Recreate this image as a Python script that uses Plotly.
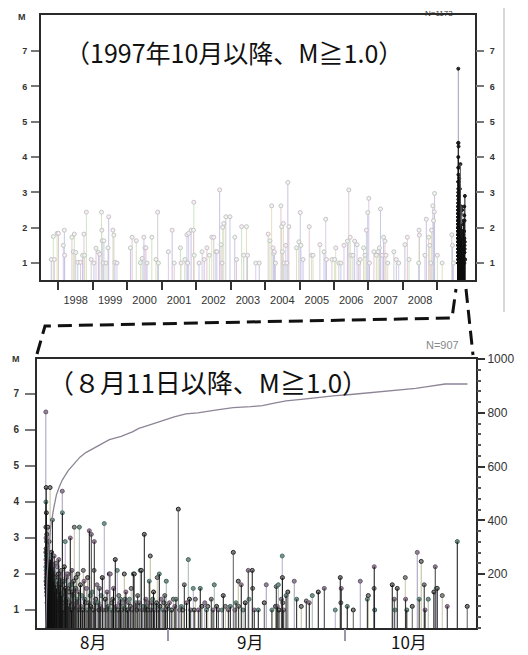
import datetime as dt
import plotly.graph_objects as go

# ---------------- data ----------------
# events from 1997-10 to 2009-08-10 (decimal year, magnitude)
pre_year = [1997.79, 1997.88, 1997.85, 1997.96, 1998.00, 1998.17, 1998.14, 1998.18, 1998.39, 1998.46,
            1998.43, 1998.50, 1998.56, 1998.64, 1998.70, 1998.74, 1998.81, 1998.76, 1998.95, 1999.03,
            1999.09, 1999.16, 1999.20, 1999.25, 1999.26, 1999.27, 1999.32, 1999.30, 1999.46, 1999.44,
            1999.38, 1999.58, 1999.61, 1999.64, 1999.70, 2000.09, 2000.14, 2000.26, 2000.38, 2000.43,
            2000.48, 2000.51, 2000.57, 2000.54, 2000.71, 2000.83, 2000.88, 2000.90, 2001.19, 2001.30,
            2001.36, 2001.54, 2001.56, 2001.67, 2001.73, 2001.78, 2001.85, 2001.92, 2001.93, 2001.94,
            2001.75, 2002.08, 2002.17, 2002.23, 2002.31, 2002.38, 2002.45, 2002.51, 2002.57, 2002.60,
            2002.68, 2002.72, 2002.77, 2002.80, 2002.86, 2002.98, 2002.75, 2003.12, 2003.17, 2003.32,
            2003.46, 2003.38, 2003.49, 2003.73, 2003.83,
            2004.09, 2004.14, 2004.19, 2004.23, 2004.25, 2004.30, 2004.27, 2004.46, 2004.48, 2004.53,
            2004.50, 2004.55, 2004.60, 2004.66, 2004.69, 2004.63, 2004.91, 2004.98, 2005.02, 2005.04,
            2005.10, 2005.28, 2005.35, 2005.39, 2005.59, 2005.71, 2005.76, 2005.78, 2005.94, 2006.02,
            2006.05, 2006.14, 2006.20, 2006.29, 2006.39, 2006.43, 2006.47, 2006.49, 2006.55, 2006.60,
            2006.67, 2006.72, 2006.76, 2006.86, 2006.90, 2006.94, 2006.98, 2007.01, 2007.03, 2007.16,
            2007.23, 2007.28, 2007.32, 2007.35, 2007.40, 2007.44, 2007.48, 2007.51, 2007.56, 2007.74,
            2007.81, 2007.88, 2008.06, 2008.13, 2008.18, 2008.47, 2008.48, 2008.46, 2008.64, 2008.68,
            2008.75, 2008.78, 2008.83, 2008.87, 2008.89, 2008.91, 2008.92, 2008.81, 2009.00, 2009.14,
            2009.42, 2009.44, 2009.47]
pre_mag = [1.1, 1.1, 1.75, 1.84, 1.84, 1.93, 1.5, 1.22, 1.73, 1.82,
           1.32, 1.3, 1.02, 1.02, 1.22, 1.82, 2.44, 1.22, 1.1, 1.0,
           1.42, 1.3, 1.25, 2.44, 1.93, 1.63, 1.63, 1.0, 2.31, 1.43,
           1.0, 1.93, 1.79, 1.02, 1.0, 1.43, 1.73, 1.63, 1.01, 1.13,
           1.73, 1.43, 1.0, 1.43, 1.73, 1.1, 2.44, 1.0, 1.32, 1.93,
           1.0, 1.43, 1.0, 1.1, 1.8, 1.84, 1.93, 1.93, 2.72, 1.22,
           1.0, 1.0, 1.32, 1.1, 1.43, 1.22, 1.73, 1.73, 1.32, 1.32,
           3.07, 1.52, 2.01, 2.12, 2.31, 2.31, 1.0, 1.73, 1.1, 2.03,
           2.03, 1.22, 1.22, 1.0, 1.0,
           1.82, 1.63, 2.62, 1.43, 1.27, 1.0, 1.32, 2.62, 2.03, 2.12,
           1.32, 1.0, 1.5, 3.28, 2.03, 1.0, 1.43, 1.6, 2.43, 1.5,
           1.1, 2.03, 1.22, 1.22, 1.52, 1.32, 2.24, 1.1, 1.1, 1.1,
           1.43, 1.0, 1.0, 1.5, 1.62, 3.07, 1.73, 1.22, 1.22, 1.62,
           1.52, 1.0, 1.1, 1.43, 1.22, 1.93, 2.43, 2.83, 1.0, 1.32,
           1.22, 1.32, 1.43, 2.53, 1.22, 1.73, 1.62, 1.22, 1.0, 1.32,
           1.1, 1.0, 1.52, 1.73, 1.1, 1.93, 1.79, 1.0, 1.22, 2.24,
           1.73, 1.5, 1.93, 2.62, 2.2, 2.45, 2.97, 1.0, 1.22, 1.0,
           1.8, 1.5, 1.0]

# events since 2009-08-11 (day counted from 2009-08-01 = 1, magnitude)
aft_day = [11.21, 11.22, 11.23, 11.24, 11.25, 11.26, 11.27, 11.28, 11.29, 11.30, 11.31, 11.32, 11.33, 11.34,
           11.35, 11.36, 11.38, 11.39, 11.40, 11.42, 11.43, 11.44, 11.46, 11.48, 11.50, 11.52, 11.53, 11.56,
           11.58, 11.60, 11.61, 11.64, 11.66, 11.67, 11.70, 11.72, 11.73, 11.76, 11.78, 11.80, 11.83, 11.86,
           11.88, 11.90, 11.93, 11.96, 11.99,
           12.03, 12.05, 12.09, 12.12, 12.18, 12.22, 12.25, 12.32, 12.36, 12.40, 12.47, 12.51, 12.55, 12.62,
           12.66, 12.70, 12.78, 12.82, 12.86, 12.93, 12.97,
           13.03, 13.08, 13.12, 13.22, 13.27, 13.31, 13.40, 13.45, 13.50, 13.60, 13.65, 13.70, 13.80, 13.85,
           13.90, 13.96,
           14.00, 14.02, 14.06, 14.10, 14.16, 14.22, 14.35, 14.42, 14.50, 14.60, 14.66, 14.72, 14.85, 14.92,
           15.00, 15.08, 15.15, 15.25, 15.36, 15.50, 15.57, 15.65, 15.80, 15.92,
           16.04, 16.12, 16.20, 16.35, 16.42, 16.50, 16.65, 16.72, 16.80, 16.90,
           17.10, 17.20, 17.30, 17.45, 17.57, 17.70, 17.80, 17.90,
           18.10, 18.20, 18.30, 18.45, 18.59, 18.75, 18.85, 18.93,
           19.10, 19.25, 19.40, 19.44, 19.60, 19.70, 19.90,
           20.10, 20.20, 20.30, 20.45, 20.60, 20.80, 20.90,
           21.13, 21.30, 21.45, 21.60, 21.80, 21.98,
           22.15, 22.30, 22.40, 22.55, 22.70, 22.85,
           23.00, 23.17, 23.34, 23.50, 23.60, 23.75, 23.90,
           24.05, 24.20, 24.35, 24.53, 24.65, 24.80, 24.95,
           25.10, 25.25, 25.40, 25.55, 25.70, 25.85,
           26.06, 26.23, 26.35, 26.50, 26.65, 26.80,
           27.05, 27.25, 27.42, 27.55, 27.70, 27.93,
           28.05, 28.20, 28.35, 28.50, 28.65, 28.77, 28.94,
           29.05, 29.20, 29.35, 29.50, 29.65, 29.80,
           30.00, 30.13, 30.30, 30.47, 30.60, 30.80,
           31.10, 31.25, 31.40, 31.55, 31.66, 31.85,
           32.20, 32.40, 32.60, 32.85,
           33.10, 33.30, 33.70, 33.90,
           34.20, 34.50, 34.72,
           35.10, 35.40, 35.60, 35.80,
           36.24, 36.40, 36.60,
           37.10, 37.43, 37.70,
           38.20, 38.50, 38.70,
           39.30, 39.60, 39.81,
           40.20, 40.50,
           41.10, 41.34, 41.70,
           42.20, 42.53,
           43.04, 43.30, 43.50, 43.88, 43.95,
           44.39, 44.70,
           45.07, 45.58, 45.70,
           46.26, 46.32, 46.60,
           47.28, 48.30, 48.64, 49.60,
           50.20, 50.34, 50.50, 50.68, 50.80,
           51.20, 51.35, 51.38, 51.45, 51.60,
           52.00, 52.30, 53.39, 53.80, 54.58, 55.43, 55.94, 56.45, 57.47, 58.49,
           60.35, 61.20, 61.30, 61.37, 62.39, 63.41, 64.60, 65.80, 65.96,
           66.95, 66.97, 67.05,
           70.03, 70.37, 70.50, 70.88,
           72.24, 72.30, 72.50, 73.43,
           74.28, 74.60, 74.95, 75.46, 75.60, 76.14,
           77.10, 77.33, 77.50, 77.67, 78.52, 79.37, 81.07, 82.76,
           11.215, 11.225, 11.245, 11.255, 11.275, 11.285, 11.305, 11.315, 11.335, 11.345,
           11.37, 11.41, 11.45, 11.47, 11.49, 11.51, 11.545, 11.57, 11.59, 11.625,
           11.65, 11.685, 11.71, 11.745, 11.77, 11.79, 11.815, 11.845, 11.87, 11.895,
           11.915, 11.945, 11.975, 12.01, 12.07, 12.15, 12.20, 12.28, 12.35, 12.44,
           12.58, 12.74, 12.90, 13.15, 13.35, 13.55, 13.75, 14.30, 14.55, 14.80,
           15.30, 15.70, 16.30]
aft_mag = [6.5, 4.0, 3.3, 2.4, 3.0, 2.1, 4.4, 2.7, 1.9, 3.7, 2.2, 1.5, 2.9, 1.6,
           2.0, 2.5, 3.1, 1.4, 1.8, 2.3, 1.2, 2.0, 2.8, 1.5, 2.4, 1.1, 1.7, 3.3,
           2.1, 1.3, 1.4, 2.6, 1.2, 1.9, 2.2, 1.0, 1.6, 2.9, 1.3, 1.8, 2.3, 1.3,
           1.7, 2.0, 4.4, 1.7, 2.4,
           1.3, 2.2, 1.1, 1.6, 2.6, 1.2, 1.9, 3.5, 1.0, 1.4, 2.1, 1.2, 1.8, 2.5,
           1.1, 1.5, 2.0, 1.3, 1.7, 2.3, 1.0,
           1.6, 1.2, 2.2, 1.3, 1.0, 1.9, 2.4, 1.1, 1.5, 2.0, 1.2, 1.7, 2.1, 1.0,
           1.4, 1.8,
           4.3, 3.7, 1.2, 1.8, 1.0, 1.5, 2.2, 1.1, 2.9, 1.6, 1.3, 1.9, 1.3, 1.6,
           2.0, 1.1, 1.5, 1.2, 3.0, 1.7, 1.0, 2.1, 1.4, 1.8,
           3.3, 1.1, 1.6, 1.9, 1.2, 1.3, 2.0, 1.0, 1.5, 3.3,
           1.7, 1.1, 1.4, 1.0, 2.1, 1.8, 1.3, 1.2,
           1.6, 1.0, 1.9, 1.2, 3.2, 1.4, 1.1, 3.1,
           1.5, 1.0, 2.1, 2.9, 1.2, 1.3, 1.7,
           1.2, 1.0, 1.6, 1.1, 1.4, 1.9, 1.0,
           3.4, 1.3, 1.0, 1.5, 1.1, 2.0,
           2.0, 1.0, 1.2, 1.3, 1.6, 1.0,
           2.4, 1.1, 2.1, 1.0, 1.4, 1.2, 1.3,
           1.0, 1.2, 1.1, 2.0, 1.3, 1.5, 1.0,
           1.0, 1.2, 1.3, 1.1, 1.6, 1.0,
           2.0, 2.0, 1.1, 1.2, 1.0, 1.4,
           1.2, 2.1, 2.1, 1.0, 1.1, 3.1,
           1.0, 1.3, 1.1, 1.0, 1.2, 1.8, 2.5,
           1.0, 1.2, 1.3, 1.5, 1.0, 1.1,
           1.2, 1.9, 1.0, 2.0, 1.1, 1.3,
           1.0, 1.2, 1.4, 1.0, 1.8, 1.1,
           1.2, 1.0, 1.0, 1.3,
           1.1, 1.3, 3.8, 1.0,
           1.1, 1.0, 1.7,
           1.2, 2.4, 1.3, 1.0,
           1.6, 1.0, 1.3,
           1.0, 1.6, 1.1,
           1.2, 1.0, 1.1,
           1.3, 1.0, 1.7,
           1.1, 1.0,
           1.0, 1.4, 1.1,
           1.0, 1.1,
           2.6, 1.0, 1.2, 1.8, 1.1,
           1.7, 1.0,
           1.2, 2.1, 1.3,
           2.1, 1.6, 1.0,
           1.0, 1.2, 1.7, 1.0,
           1.1, 1.65, 1.1, 1.7, 1.0,
           1.3, 2.5, 1.9, 1.2, 1.0,
           1.4, 1.5, 1.8, 1.3, 1.1, 1.25, 1.2, 1.4, 1.5, 1.6,
           1.0, 1.9, 1.2, 1.6, 1.1, 1.0, 1.8, 1.3, 1.4,
           1.6, 2.2, 1.0,
           1.7, 1.3, 1.0, 1.6,
           1.9, 1.3, 1.0, 1.1,
           2.6, 1.3, 2.35, 1.7, 1.0, 1.3,
           1.5, 2.2, 1.6, 1.6, 1.4, 1.1, 2.9, 1.1,
           2.6, 2.2, 1.8, 2.7, 2.0, 2.5, 1.7, 2.3, 2.1, 2.6,
           1.9, 2.2, 1.6, 2.5, 2.0, 1.8, 2.3, 1.5, 2.4, 1.9,
           2.1, 1.7, 2.5, 2.0, 1.4, 2.2, 1.9, 2.1, 1.6, 2.4,
           1.8, 2.0, 1.5, 2.1, 1.7, 2.3, 1.9, 2.0, 1.6, 2.2,
           1.8, 1.9, 1.5, 1.8, 2.0, 1.7, 1.9, 1.8, 1.6, 2.0,
           1.7, 1.5, 1.6]

# cumulative number of events since 2009-08-11 (day from 2009-08-01 = 1)
cum_day = [11.21, 11.23, 11.30, 11.40, 11.55, 11.75, 12.0, 12.5, 13.0, 13.5, 14.0, 15.0, 16.0, 17.0,
           18.0, 19.0, 20.0, 21.0, 22.0, 24.0, 26.0, 27.0, 29.0, 31.0, 33.0, 35.0, 37.0, 40.0, 43.0,
           46.0, 48.0, 50.0, 52.0, 55.0, 58.0, 60.0, 63.0, 66.0, 69.0, 72.0, 74.0, 76.0, 78.0, 79.0, 82.8]
cum_count = [1, 40, 120, 180, 240, 300, 370, 440, 495, 525, 550, 585, 612, 635,
             652, 665, 678, 688, 700, 712, 730, 742, 756, 770, 785, 796, 800, 810, 819,
             823, 827, 836, 844, 851, 859, 863, 868, 874, 879, 886, 891, 897, 905, 907, 907]

year_ticks = [1998, 1999, 2000, 2001, 2002, 2003, 2004, 2005, 2006, 2007, 2008, 2009]
year_labels = ["1998", "1999", "2000", "2001", "2002", "2003", "2004", "2005", "2006", "2007", "2008"]
month_starts = [32, 62]          # Sep 1, Oct 1 (day from Aug 1)
month_label_days = [19.2, 45.9, 72.9]
month_labels = ["8月", "9月", "10月"]
mag_ticks = [1, 2, 3, 4, 5, 6, 7]
count_ticks = [200, 400, 600, 800, 1000]
top_title = "（1997年10月以降、M≧1.0）"
bottom_title = "（８月11日以降、M≧1.0）"
top_n = "N=1173"
bottom_n = "N=907"

# ---------------- helpers ----------------
OFF = 8                      # page body margin of the browser
W, H = 528 - OFF, 655 - OFF


def dec_year(y):
    yr = int(y)
    s = dt.datetime(yr, 1, 1)
    e = dt.datetime(yr + 1, 1, 1)
    return s + (e - s) * (y - yr)


def aug_day(d):
    return dt.datetime(2009, 8, 1) + dt.timedelta(days=d - 1)


def px(x):
    return (x - OFF) / W


def py(y):
    return 1 - (y - OFF) / H


def lum(c):
    c = c.lstrip('#')
    r, g, b = int(c[0:2], 16), int(c[2:4], 16), int(c[4:6], 16)
    return 0.3 * r + 0.59 * g + 0.11 * b


def stem_groups(xs, ms, palette):
    groups = {}
    for i, (x, m) in enumerate(zip(xs, ms)):
        c = palette[i % len(palette)]
        gx, gy = groups.setdefault(c, ([], []))
        gx += [x, x, None]
        gy += [0, m, None]
    return groups


def add_stems(fig, groups, xa, ya, dark):
    for c in sorted(groups, key=lum, reverse=True):
        if (lum(c) < 100) != dark:
            continue
        gx, gy = groups[c]
        fig.add_trace(go.Scatter(x=gx, y=gy, mode="lines", line=dict(color=c, width=1),
                                 xaxis=xa, yaxis=ya, hoverinfo="skip", showlegend=False))


def add_heads(fig, xs, ms, fill, outline_pal, size, xa, ya):
    lines = [outline_pal[i % len(outline_pal)] for i in range(len(xs))]
    fig.add_trace(go.Scatter(x=xs, y=ms, mode="markers",
                             marker=dict(size=size, color=fill, line=dict(color=lines, width=1)),
                             xaxis=xa, yaxis=ya, hoverinfo="skip", showlegend=False))


pre_pal = ["#c9c1e3", "#e4c8d2", "#cfe4c5", "#e6dfbf", "#d0d0d0", "#c3cbe8", "#dccbe6"]
aft_pal = ["#a39db9", "#1c1c1c", "#bebc96", "#2a2a2a", "#0f0f0f", "#a5b8ab", "#111111",
           "#3a3a3a", "#b3abc8", "#181818", "#c8c5aa", "#262626", "#0e0e0e", "#5a5a5a"]
aft_head = ["#6e5476", "#3f7a6e", "#262626", "#4a4a4a", "#7a5479", "#34695e", "#1c1c1c"]

pre_x = [dec_year(y) for y in pre_year]
aft_x = [aug_day(d) for d in aft_day]
pre_groups = stem_groups(pre_x, pre_mag, pre_pal)
aft_groups = stem_groups(aft_x, aft_mag, aft_pal)

fig = go.Figure()

# top panel
add_stems(fig, pre_groups, "x", "y", dark=False)
add_heads(fig, pre_x, pre_mag, "#f3f3f3", ["#c4c4c4", "#cdbfca", "#bfcabf"], 4, "x", "y")
add_stems(fig, aft_groups, "x", "y", dark=False)
add_heads(fig, aft_x, aft_mag, "#2a2a2a", ["#1a1a1a"], 3, "x", "y")
add_stems(fig, aft_groups, "x", "y", dark=True)
fig.add_trace(go.Scatter(x=[], y=[], xaxis="x3", yaxis="y3", showlegend=False))

# bottom panel
add_stems(fig, aft_groups, "x2", "y2", dark=False)
add_heads(fig, aft_x, aft_mag, "#8a8a8a", aft_head, 4, "x2", "y2")
add_stems(fig, aft_groups, "x2", "y2", dark=True)
fig.add_trace(go.Scatter(x=[], y=[], xaxis="x4", yaxis="y2", showlegend=False))
fig.add_trace(go.Scatter(x=[aug_day(d) for d in cum_day], y=cum_count, mode="lines",
                         line=dict(color="#8d8496", width=1.3), xaxis="x2", yaxis="y4",
                         hoverinfo="skip", showlegend=False))

tick_font = dict(family="Liberation Sans, Arial", size=9, color="#333", weight="bold")
frame = dict(showline=True, mirror=True, linewidth=2, linecolor="#2a2a2a", showgrid=False,
             zeroline=False, automargin=False)
plain = dict(showline=False, showgrid=False, zeroline=False, automargin=False)

top_x_range = [dec_year(1997.492), dec_year(2010.094)]
bot_x_range = [dt.datetime(2009, 8, 9, 17), dt.datetime(2009, 10, 23, 6)]

fig.update_layout(
    width=W, height=H, margin=dict(l=0, r=0, t=0, b=0, autoexpand=False),
    paper_bgcolor="white", plot_bgcolor="white", showlegend=False,
    xaxis=dict(domain=[px(41), px(475)], anchor="y", type="date", range=top_x_range,
               tickvals=[dec_year(y + 0.5) for y in year_ticks[:len(year_labels)]], ticktext=year_labels,
               ticks="outside", ticklen=9, tickcolor="rgba(0,0,0,0)",
               tickfont=dict(family="Liberation Sans, Arial", size=11, color="#333"), **frame),
    xaxis3=dict(overlaying="x", anchor="y", type="date", range=top_x_range,
                tickvals=[dec_year(y) for y in year_ticks], showticklabels=False,
                ticks="outside", ticklen=9, tickwidth=2, tickcolor="#333", **plain),
    yaxis=dict(domain=[py(280), py(15)], anchor="x", range=[0.52, 8.02], tickvals=mag_ticks,
               ticks="outside", ticklen=8, tickwidth=1.5, tickcolor="#777", tickfont=tick_font,
               ticklabelstandoff=2, **frame),
    yaxis3=dict(overlaying="y", anchor="x", side="right", range=[0.52, 8.02], tickvals=mag_ticks,
                ticks="outside", ticklen=8, tickwidth=1.5, tickcolor="#777", tickfont=tick_font,
                ticklabelstandoff=4, **plain),
    xaxis2=dict(domain=[px(37), px(476)], anchor="y2", type="date", range=bot_x_range,
                showticklabels=False, ticks="", **frame),
    xaxis4=dict(overlaying="x2", anchor="y2", type="date", range=bot_x_range,
                tickvals=[aug_day(d) for d in month_starts], showticklabels=False,
                ticks="outside", ticklen=12, tickwidth=1.5, tickcolor="#9a96aa", **plain),
    yaxis2=dict(domain=[py(628), py(359)], anchor="x2", range=[0.5, 7.97], tickvals=mag_ticks,
                ticks="outside", ticklen=10, tickwidth=1.5, tickcolor="#777", ticklabelstandoff=4,
                tickfont=dict(family="Liberation Sans, Arial", size=10, color="#333", weight="bold"), **frame),
    yaxis4=dict(overlaying="y2", anchor="x2", side="right", range=[0, 1000], tickvals=count_ticks,
                ticks="outside", ticklen=8, tickwidth=1.5, tickcolor="#333",
                minor=dict(ticks="outside", ticklen=4, dtick=40, tickcolor="#555"),
                tickfont=dict(family="Liberation Sans, Arial", size=12, color="#333"), **plain),
)

ann = [
    dict(x=px(234), y=py(52), text=top_title, font=dict(family="Noto Sans CJK JP", size=25, color="#111")),
    dict(x=px(208), y=py(381), text=bottom_title, font=dict(family="Noto Sans CJK JP", size=26, color="#111")),
    dict(x=px(22), y=py(17), text="M", font=dict(family="Liberation Sans, Arial", size=9, color="#333", weight="bold")),
    dict(x=px(16), y=py(359), text="M", font=dict(family="Liberation Sans, Arial", size=9, color="#333", weight="bold")),
    dict(x=px(442), y=py(345), text=bottom_n, font=dict(family="Liberation Sans, Arial", size=11, color="#888")),
]
for lab, d in zip(month_labels, month_label_days):
    ann.append(dict(x=aug_day(d), y=py(641), text=lab, xref="x2",
                    font=dict(family="Noto Sans CJK JP", size=17, color="#111")))
for a in ann:
    a.setdefault("xref", "paper")
    fig.add_annotation(yref="paper", showarrow=False, xanchor="center", yanchor="middle", **a)
# sample size label of the upper panel, kept just inside the top edge of the page
fig.add_annotation(xref="paper", yref="paper", x=px(439), y=1, yanchor="top", xanchor="center",
                   showarrow=False, borderpad=0, text=top_n,
                   font=dict(family="Liberation Sans, Arial", size=8, color="#333"))

dash = dict(color="#111", width=3, dash="14px,7px")
fig.add_shape(type="path", xref="paper", yref="paper", line=dash,
              path=f"M {px(37)},{py(354)} L {px(45)},{py(326)} L {px(452)},{py(318)} L {px(456)},{py(289)}")
fig.add_shape(type="line", xref="paper", yref="paper", line=dash,
              x0=px(466), y0=py(289), x1=px(473), y1=py(355))
fig.add_shape(type="line", xref="paper", yref="paper", line=dict(color="#b0b0b0", width=1),
              x0=px(504), y0=py(8), x1=px(504), y1=py(312))
fig.add_shape(type="line", xref="paper", yref="paper", line=dict(color="#b0b0b0", width=1),
              x0=px(524), y0=py(335), x1=px(524), y1=py(648))

fig.write_html("out.html")
